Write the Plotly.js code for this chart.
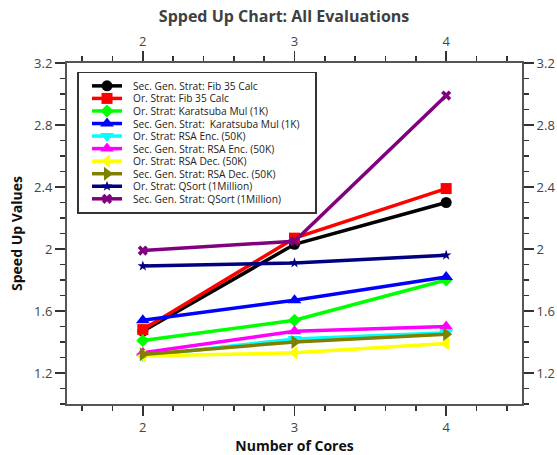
<!DOCTYPE html>
<html>
<head>
<meta charset="utf-8">
<script src="https://cdn.plot.ly/plotly-3.0.1.min.js"></script>
<style>html,body{margin:0;padding:0;background:#fff;}#chart{width:557px;height:455px;}</style>
</head>
<body>
<div id="chart"></div>
<script>
// Data
const cores = [2, 3, 4];
const seriesNames = [
  "Sec. Gen. Strat: Fib 35 Calc",
  "Or. Strat: Fib 35 Calc",
  "Or. Strat: Karatsuba Mul (1K)",
  "Sec. Gen. Strat:  Karatsuba Mul (1K)",
  "Or. Strat: RSA Enc. (50K)",
  "Sec. Gen. Strat: RSA Enc. (50K)",
  "Or. Strat: RSA Dec. (50K)",
  "Sec. Gen. Strat: RSA Dec. (50K)",
  "Or. Strat: QSort (1Million)",
  "Sec. Gen. Strat: QSort (1Million)"
];
const secFib = [1.47, 2.03, 2.30];
const orFib = [1.48, 2.07, 2.39];
const orKara = [1.41, 1.54, 1.80];
const secKara = [1.54, 1.67, 1.82];
const orRsaEnc = [1.31, 1.42, 1.46];
const secRsaEnc = [1.33, 1.47, 1.50];
const orRsaDec = [1.31, 1.33, 1.39];
const secRsaDec = [1.32, 1.40, 1.45];
const orQsort = [1.89, 1.91, 1.96];
const secQsort = [1.99, 2.05, 2.99];

const seriesValues = [secFib, orFib, orKara, secKara, orRsaEnc, secRsaEnc, orRsaDec, secRsaDec, orQsort, secQsort];
const colors = ["#000000", "#ff0000", "#00ff00", "#0000ff", "#00ffff", "#ff00ff", "#ffff00", "#808000", "#000080", "#800080"];
const symbols = ["circle", "square", "diamond", "triangle-up", "triangle-down", "triangle-up", "triangle-left", "triangle-right", "star", "x"];
const sizes = [11, 11, 10, 12, 12, 12, 12, 12, 8, 9];

const traces = seriesValues.map((vals, i) => ({
  type: "scatter",
  mode: "lines+markers",
  name: seriesNames[i],
  x: cores,
  y: vals,
  line: {color: colors[i], width: 3.5},
  marker: {color: colors[i], symbol: symbols[i], size: sizes[i], line: {width: 0}},
  xaxis: "x", yaxis: "y"
}));
traces.push({type: "scatter", x: [null], y: [null], xaxis: "x2", yaxis: "y2", showlegend: false, hoverinfo: "skip", mode: "markers"});

const tickFont = {family: "Open Sans, sans-serif", size: 13, color: "#444"};
const axisCommon = {
  showline: true, linecolor: "#555", linewidth: 2,
  ticks: "outside", tickcolor: "#333", tickwidth: 1.5, ticklen: 10,
  showgrid: false, zeroline: false, tickfont: tickFont,
};
const minorX = {dtick: 0.2, ticklen: 5, tickcolor: "#333", tickwidth: 1.5, ticks: "outside"};
const minorY = {dtick: 0.1, ticklen: 5, tickcolor: "#333", tickwidth: 1.5, ticks: "outside"};

const layout = {
  width: 557, height: 455,
  margin: {l: 67, r: 35, t: 63, b: 51},
  paper_bgcolor: "#fff", plot_bgcolor: "#fff",
  title: {text: "<b>Spped Up Chart: All Evaluations</b>", font: {family: "Open Sans, sans-serif", size: 16, color: "#404040"}, x: 0.51, xref: "container", y: 0.963, yanchor: "middle"},
  xaxis: Object.assign({}, axisCommon, {
    range: [1.5, 4.5], tick0: 0, dtick: 1, minor: minorX,
    title: {text: "<b>Number of Cores</b>", font: {family: "Open Sans, sans-serif", size: 14, color: "#111"}, standoff: 5}
  }),
  xaxis2: Object.assign({}, axisCommon, {
    range: [1.5, 4.5], tick0: 0, dtick: 1, overlaying: "x", side: "top", anchor: "y2", minor: minorX
  }),
  yaxis: Object.assign({}, axisCommon, {
    range: [1.0, 3.2], tick0: 0.4, dtick: 0.4, minor: minorY,
    title: {text: "<b>Speed Up Values</b>", font: {family: "Open Sans, sans-serif", size: 14, color: "#111"}, standoff: 8}
  }),
  yaxis2: Object.assign({}, axisCommon, {
    range: [1.0, 3.2], tick0: 0.4, dtick: 0.4, overlaying: "y", side: "right", anchor: "x2", minor: minorY
  }),
  showlegend: true,
  legend: {
    x: 0.022, y: 0.974, xanchor: "left", yanchor: "top",
    bgcolor: "#fff", bordercolor: "#333", borderwidth: 1.5,
    font: {family: "Open Sans, sans-serif", size: 10.2, color: "#222"}
  }
};

Plotly.newPlot("chart", traces, layout, {staticPlot: true}).then(() => {
  // compact legend rows to match the reference spacing
  const items = Array.from(document.querySelectorAll(".legend .traces"));
  if (!items.length) return;
  const parse = el => {
    const m = /translate\(\s*([-\d.]+)[ ,]+([-\d.]+)\s*\)/.exec(el.getAttribute("transform") || "");
    return m ? [parseFloat(m[1]), parseFloat(m[2])] : [0, 0];
  };
  const first = parse(items[0]);
  const step = 12.55;
  const dx = 8.5, dText = 6;
  items.forEach((el, i) => {
    const p = parse(el);
    el.setAttribute("transform", "translate(" + (p[0] + dx) + "," + (first[1] - 2 + i * step) + ")");
    const t = el.querySelector(".legendtext");
    if (t) {
      t.setAttribute("x", parseFloat(t.getAttribute("x") || 40) + dText);
      t.querySelectorAll("tspan.line").forEach(s => { if (s.getAttribute("x")) s.setAttribute("x", parseFloat(s.getAttribute("x")) + dText); });
    }
  });
  const sb = document.querySelector(".legend .scrollbox");
  if (sb) sb.removeAttribute("clip-path");
  const bg = document.querySelector(".legend rect.bg");
  if (bg) {
    const r = bg.getBoundingClientRect();
    const w = parseFloat(bg.getAttribute("width"));
    const h = parseFloat(bg.getAttribute("height"));
    bg.setAttribute("width", w + (316 - r.right));
    bg.setAttribute("height", h + (213 - r.bottom));
  }
});
</script>
</body>
</html>
